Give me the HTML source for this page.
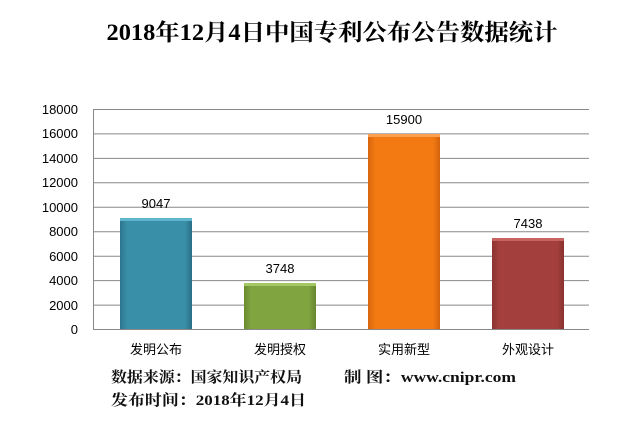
<!DOCTYPE html>
<html><head><meta charset="utf-8"><style>
body{margin:0;background:#fff;width:630px;height:426px;overflow:hidden}
svg text{font-family:"Liberation Sans","Noto Sans CJK SC",sans-serif}
.s{font-family:'Liberation Serif','Noto Serif CJK SC',serif}
</style></head><body>
<svg width="630" height="426" xmlns="http://www.w3.org/2000/svg">
<defs>
<linearGradient id="b1" x1="0" x2="1"><stop offset="0" stop-color="#2c7590"/><stop offset="0.1" stop-color="#3a8fa8"/><stop offset="0.9" stop-color="#3a8fa8"/><stop offset="1" stop-color="#2a6e87"/></linearGradient>
<linearGradient id="b2" x1="0" x2="1"><stop offset="0" stop-color="#6a8a30"/><stop offset="0.1" stop-color="#80a440"/><stop offset="0.9" stop-color="#80a440"/><stop offset="1" stop-color="#66852e"/></linearGradient>
<linearGradient id="b3" x1="0" x2="1"><stop offset="0" stop-color="#d9660e"/><stop offset="0.1" stop-color="#f37a12"/><stop offset="0.9" stop-color="#f37a12"/><stop offset="1" stop-color="#d4620d"/></linearGradient>
<linearGradient id="b4" x1="0" x2="1"><stop offset="0" stop-color="#8c3331"/><stop offset="0.1" stop-color="#a3403d"/><stop offset="0.9" stop-color="#a3403d"/><stop offset="1" stop-color="#8a3230"/></linearGradient>
</defs>
<text class="s" x="332" y="40" text-anchor="middle" font-size="23" font-weight="bold" textLength="451" lengthAdjust="spacingAndGlyphs">2018年12月4日中国专利公布公告数据统计</text>
<g stroke="#888" stroke-width="1">
<line x1="93" y1="109.5" x2="589" y2="109.5"/><line x1="93" y1="133.9" x2="589" y2="133.9"/><line x1="93" y1="158.4" x2="589" y2="158.4"/><line x1="93" y1="182.8" x2="589" y2="182.8"/><line x1="93" y1="207.3" x2="589" y2="207.3"/><line x1="93" y1="231.7" x2="589" y2="231.7"/><line x1="93" y1="256.2" x2="589" y2="256.2"/><line x1="93" y1="280.6" x2="589" y2="280.6"/><line x1="93" y1="305.1" x2="589" y2="305.1"/><line x1="93" y1="329.5" x2="589" y2="329.5"/><line x1="93.5" y1="109" x2="93.5" y2="330"/>
</g>
<g font-size="13" text-anchor="end" fill="#000">
<text x="78" y="114">18000</text><text x="78" y="138">16000</text><text x="78" y="163">14000</text><text x="78" y="187">12000</text><text x="78" y="212">10000</text><text x="78" y="236">8000</text><text x="78" y="261">6000</text><text x="78" y="285">4000</text><text x="78" y="310">2000</text><text x="78" y="334">0</text>
</g>
<rect x="120" y="218" width="72" height="111" fill="url(#b1)"/><rect x="120" y="218" width="72" height="3" fill="#5fb5cc"/>
<rect x="244" y="283" width="72" height="46" fill="url(#b2)"/><rect x="244" y="283" width="72" height="3" fill="#a4c864"/>
<rect x="368" y="134" width="72" height="195" fill="url(#b3)"/><rect x="368" y="134" width="72" height="3" fill="#ffa050"/>
<rect x="492" y="238" width="72" height="91" fill="url(#b4)"/><rect x="492" y="238" width="72" height="3" fill="#c86360"/>
<g font-size="13" text-anchor="middle">
<text x="156" y="208">9047</text><text x="280" y="273">3748</text><text x="404" y="124">15900</text><text x="528" y="228">7438</text>
<text x="156" y="354">发明公布</text><text x="280" y="354">发明授权</text><text x="404" y="354">实用新型</text><text x="528" y="354">外观设计</text>
</g>
<g font-size="15" fill="#111" font-weight="bold">
<text class="s" x="111" y="382" textLength="191" lengthAdjust="spacingAndGlyphs">数据来源：国家知识产权局</text>
<text class="s" x="344" y="382" textLength="172" lengthAdjust="spacingAndGlyphs">制 图：www.cnipr.com</text>
<text class="s" x="111" y="405" textLength="195" lengthAdjust="spacingAndGlyphs">发布时间：2018年12月4日</text>
</g>
</svg>
</body></html>
